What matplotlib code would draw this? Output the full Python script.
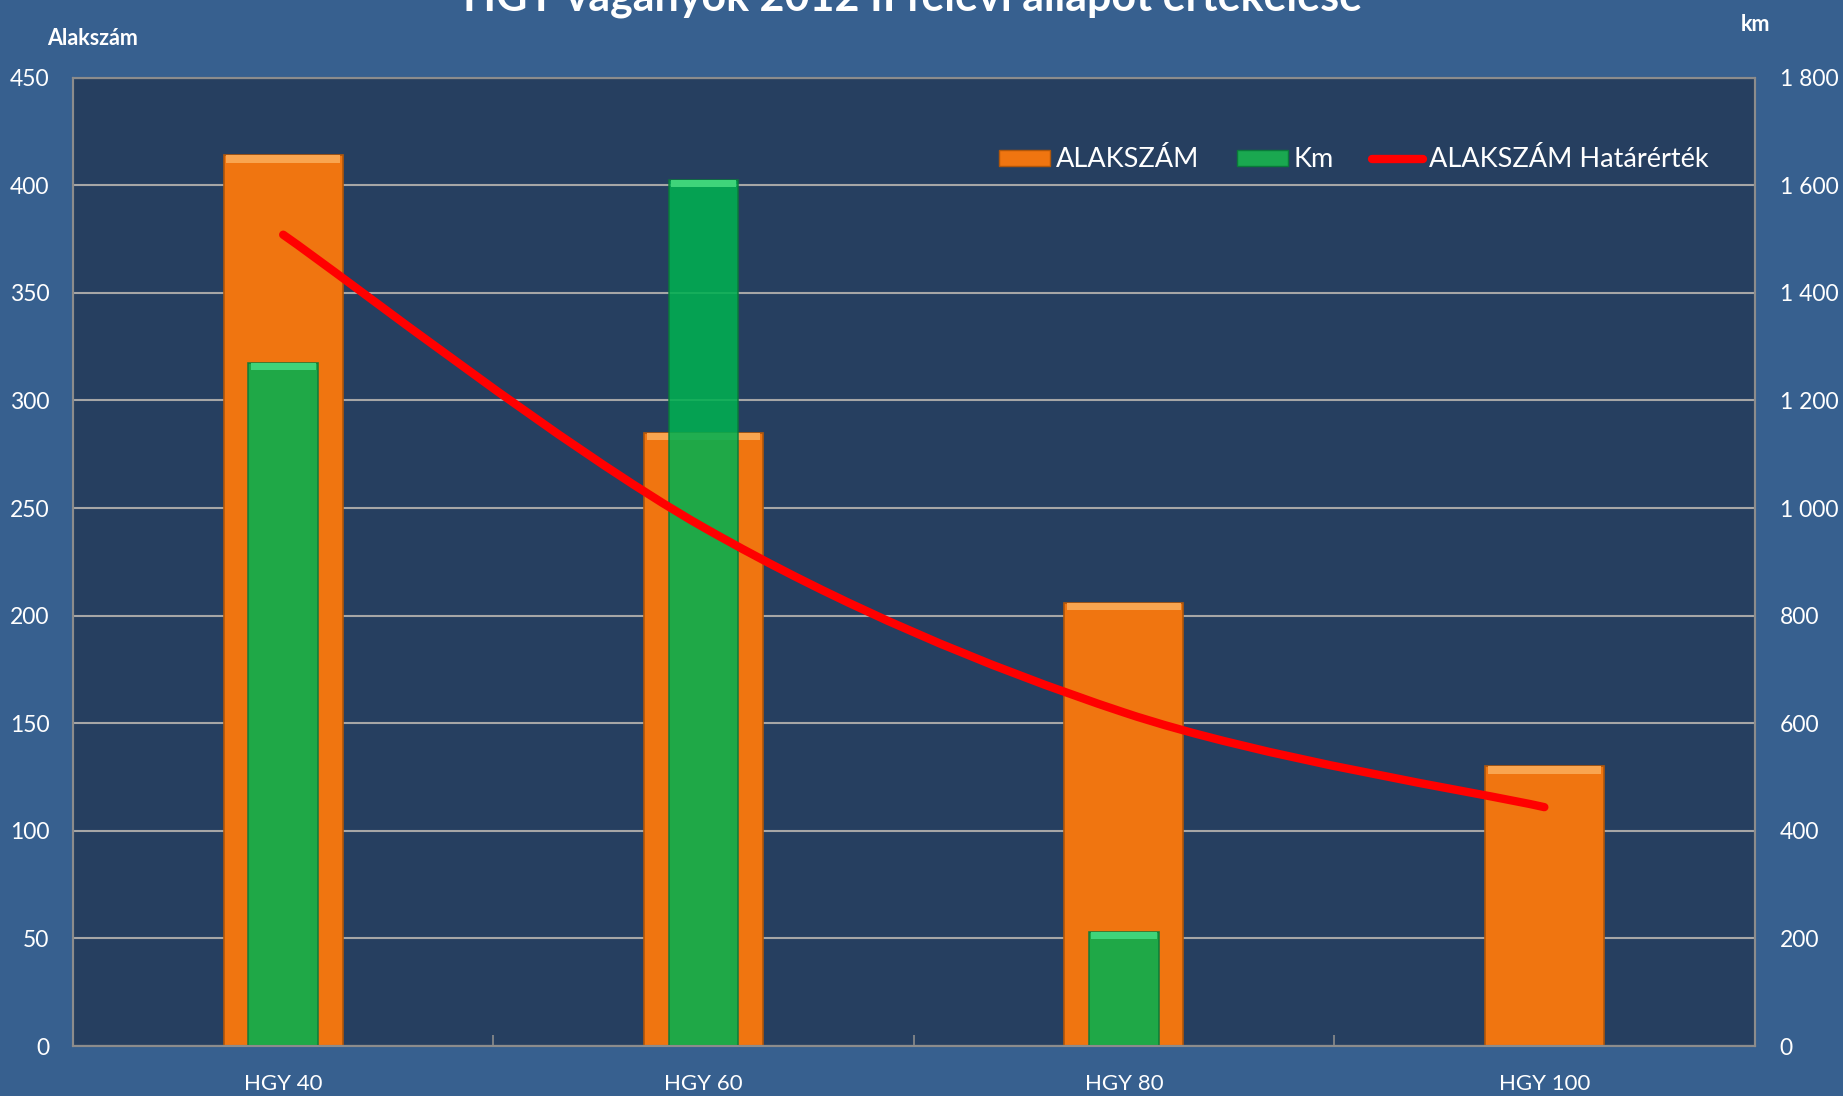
import numpy as np
import matplotlib.pyplot as plt
from matplotlib.path import Path
from matplotlib.patches import PathPatch, Patch
from matplotlib.lines import Line2D
from matplotlib.ticker import FuncFormatter

plt.rcParams['font.family'] = ['Lato', 'DejaVu Sans']

# Data
categories = ['HGY 40', 'HGY 60', 'HGY 80', 'HGY 100']
alakszam = [414, 285, 206, 130]          # left axis
km = [1270, 1610, 212, 0]                # right axis
hatarertek = [377, 241, 155, 111]        # left axis, smoothed line

title = 'HGY vágányok 2012 II félévi állapot értékelése'

# Colours
fig_bg = '#37608f'
plot_bg = '#263f60'
orange = '#f07510'
green = '#00b050'
red = '#ff0000'
grid_c = '#a6a6a6'
text_c = 'white'

fig = plt.figure(figsize=(18.43, 10.96), dpi=100, facecolor=fig_bg)
ax1 = fig.add_axes([0.0396, 0.0456, 0.9124, 0.8836])
ax1.set_facecolor(plot_bg)
ax2 = ax1.twinx()

x = np.arange(len(categories))

# Orange bars (left axis)
ax1.bar(x, alakszam, width=0.283, color=orange, edgecolor='#b0560a',
        linewidth=1.2, zorder=2)
# top bevel highlight
ax1.bar(x, [3.5] * len(x), bottom=np.array(alakszam) - 3.5, width=0.27,
        color='#f9a550', linewidth=0, zorder=3)

# Green bars (right axis)
ax2.bar(x, km, width=0.165, color=green, alpha=0.87, edgecolor='#0a7a3a',
        linewidth=1.2, zorder=2)
km_arr = np.array(km, dtype=float)
ax2.bar(x[km_arr > 0], [14] * int((km_arr > 0).sum()),
        bottom=km_arr[km_arr > 0] - 14, width=0.155,
        color='#3fd47a', linewidth=0, zorder=3)

# Smoothed limit line (Catmull-Rom -> Bezier), left axis values drawn on top
pts = np.column_stack([x, hatarertek]).astype(float)
ext = np.vstack([pts[0], pts, pts[-1]])
verts = [tuple(pts[0])]
codes = [Path.MOVETO]
for i in range(len(pts) - 1):
    p0, p1, p2, p3 = ext[i], ext[i + 1], ext[i + 2], ext[i + 3]
    c1 = p1 + (p2 - p0) / 6.0
    c2 = p2 - (p3 - p1) / 6.0
    verts += [tuple(c1), tuple(c2), tuple(p2)]
    codes += [Path.CURVE4] * 3
ax2.add_patch(PathPatch(Path(verts, codes), facecolor='none', edgecolor=red,
                        linewidth=6, capstyle='round', joinstyle='round',
                        transform=ax1.transData, zorder=5))

# Axes limits and ticks
ax1.set_xlim(-0.5, len(categories) - 0.5)
ax1.set_ylim(0, 450)
ax2.set_ylim(0, 1800)
ax1.set_yticks(np.arange(0, 451, 50))
ax2.set_yticks(np.arange(0, 1801, 200))
ax2.yaxis.set_major_formatter(FuncFormatter(lambda v, p: f'{int(v):,}'.replace(',', ' ')))

ax1.set_xticks(x)
ax1.set_xticklabels(categories)
ax1.set_xticks(np.arange(0.5, len(categories) - 1, 1), minor=True)
ax1.tick_params(axis='x', which='major', length=0, pad=20, labelsize=16,
                colors=text_c)
ax1.tick_params(axis='x', which='minor', direction='in', length=8,
                width=1.2, color='#8c8c8c')
ax1.tick_params(axis='y', length=0, pad=17, labelsize=16.5, colors=text_c)
ax2.tick_params(axis='y', length=0, pad=18, labelsize=16.5, colors=text_c)

ax1.yaxis.grid(True, color=grid_c, linewidth=1.5, zorder=1)
ax1.set_axisbelow(True)

for ax in (ax1, ax2):
    for s in ax.spines.values():
        s.set_color('#8c8c8c')
        s.set_linewidth(1.5)

# Axis titles
fig.text(0.0255, 0.9646, 'Alakszám', color=text_c, fontsize=15.5,
         fontweight='bold', ha='left', va='center')
fig.text(0.9525, 0.978, 'km', color=text_c, fontsize=15.5,
         fontweight='bold', ha='center', va='center')
fig.text(0.495, 1 - 10 / 1096, title, color=text_c, fontsize=31,
         fontweight='bold', ha='center', va='baseline')

# Legend
handles = [Patch(facecolor=orange, edgecolor='#b0560a'),
           Patch(facecolor='#1aa850', edgecolor='#0a7a3a'),
           Line2D([0], [0], color=red, linewidth=6, solid_capstyle='round')]
leg = ax2.legend(handles, ['ALAKSZÁM', 'Km', 'ALAKSZÁM Határérték'],
                 loc='center right', bbox_to_anchor=(0.987, 0.915), ncol=3,
                 frameon=False, fontsize=19.5, labelcolor=text_c,
                 handlelength=1.9, handleheight=0.55, handletextpad=0.2,
                 columnspacing=1.4)
leg.set_zorder(10)

fig.savefig('out.png', dpi=100, facecolor=fig_bg)
